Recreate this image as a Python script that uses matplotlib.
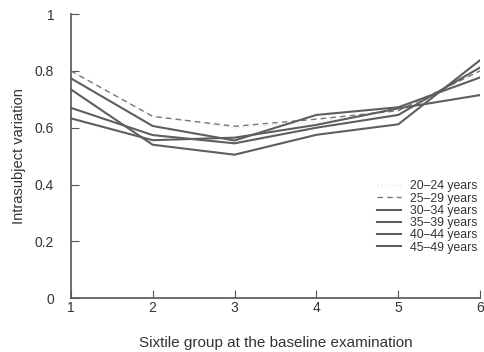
import numpy as np
import matplotlib
matplotlib.use("Agg")
import matplotlib.pyplot as plt

plt.rcParams['font.family'] = ['Liberation Sans', 'DejaVu Sans']

# data
sixtile = [1, 2, 3, 4, 5, 6]
age_groups = ["20\u201324 years", "25\u201329 years", "30\u201334 years",
              "35\u201339 years", "40\u201344 years", "45\u201349 years"]
v_20_24 = [0.80, 0.64, 0.60, 0.62, 0.66, 0.80]
v_25_29 = [0.80, 0.64, 0.605, 0.63, 0.66, 0.80]
v_30_34 = [0.774, 0.606, 0.555, 0.645, 0.672, 0.777]
v_35_39 = [0.735, 0.54, 0.505, 0.575, 0.612, 0.838]
v_40_44 = [0.67, 0.574, 0.545, 0.60, 0.645, 0.812]
v_45_49 = [0.633, 0.556, 0.565, 0.61, 0.668, 0.715]

series = [v_20_24, v_25_29, v_30_34, v_35_39, v_40_44, v_45_49]
styles = [(':', '#e4e4e4', 1.0), ((0, (4, 3)), '#777777', 1.0), ('-', '#5e5e5e', 1.5),
          ('-', '#5e5e5e', 1.5), ('-', '#5e5e5e', 1.5), ('-', '#5e5e5e', 1.5)]

fig = plt.figure(figsize=(4.85, 3.52), dpi=100)
ax = fig.add_axes([0.146, 0.153, 0.844, 0.807])

for vals, lab, (ls, c, lw) in zip(series, age_groups, styles):
    ax.plot(sixtile, vals, linestyle=ls, color=c, lw=lw, label=lab)

ax.set_xlim(1, 6)
ax.set_ylim(0, 1)
ax.set_xticks(sixtile)
ax.set_yticks([0, 0.2, 0.4, 0.6, 0.8, 1])
ax.set_yticklabels(['0', '0.2', '0.4', '0.6', '0.8', '1'])
ax.spines['top'].set_visible(False)
ax.spines['right'].set_visible(False)
for s in ['left', 'bottom']:
    ax.spines[s].set_color('#555555')
    ax.spines[s].set_linewidth(1.2)
ax.tick_params(direction='in', length=6, color='#555555', labelsize=10,
               labelcolor='#333333')
ax.tick_params(axis='x', pad=2)
ax.tick_params(axis='y', pad=12)

ax.set_xlabel('Sixtile group at the baseline examination', fontsize=11,
              color='#333333', labelpad=15)
ax.set_ylabel('Intrasubject variation', fontsize=10.5, color='#333333', labelpad=6)

ax.legend(loc='upper right', bbox_to_anchor=(1.015, 0.445), frameon=False,
          fontsize=8.8, handlelength=1.9, handletextpad=0.8, labelspacing=0.02,
          labelcolor='#333333', borderpad=0.2)

fig.savefig('out.png', dpi=100)
